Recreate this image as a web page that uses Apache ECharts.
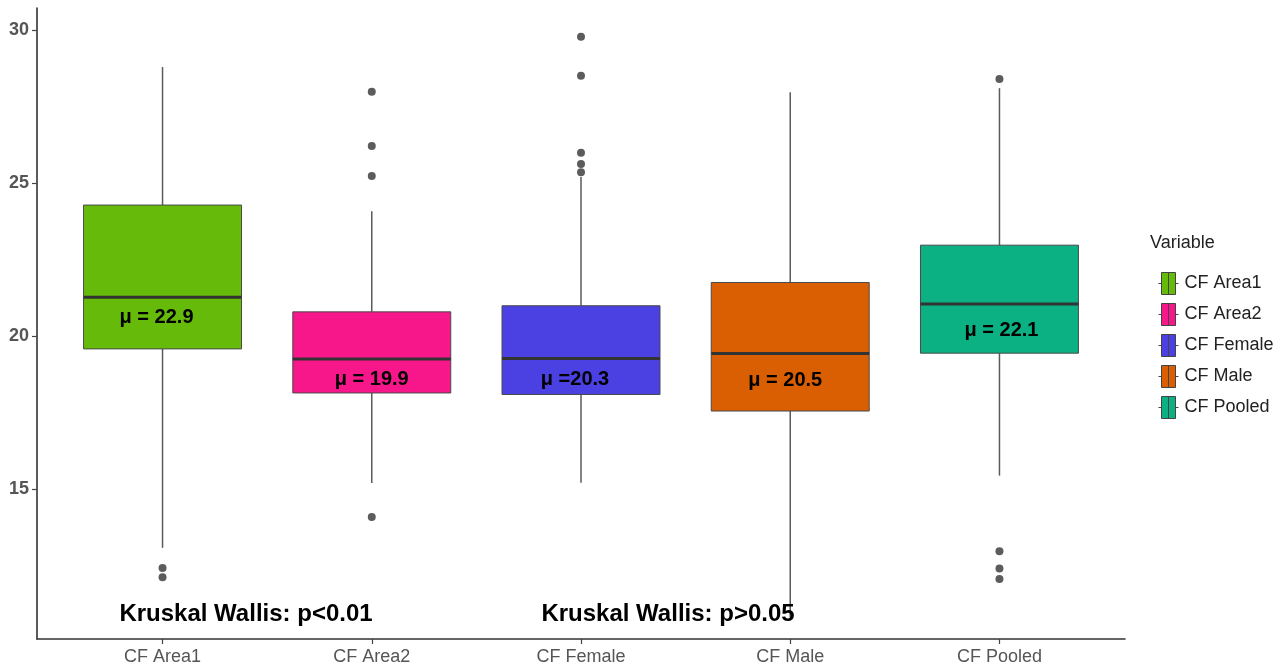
<!DOCTYPE html>
<html><head><meta charset="utf-8">
<script src="https://cdn.jsdelivr.net/npm/echarts@6/dist/echarts.min.js"></script>
<style>html,body{margin:0;padding:0;background:#fff}#c{width:1283px;height:670px}</style>
</head><body><div id="c"></div>
<script>
// ---- data ----
const categories = ['CF Area1', 'CF Area2', 'CF Female', 'CF Male', 'CF Pooled'];
const whiskerLow  = [13.08, 15.20, 15.21, 10.80, 15.44];
const q1          = [19.58, 18.14, 18.09, 17.55, 19.44];
const median      = [21.27, 19.25, 19.27, 19.43, 21.05];
const q3          = [24.28, 20.79, 20.99, 21.75, 22.97];
const whiskerHigh = [28.79, 24.08, 25.20, 27.97, 28.10];
const outliers = [
  [12.42, 12.12],
  [27.98, 26.21, 25.23, 14.09],
  [29.78, 28.51, 25.99, 25.62, 25.35],
  [],
  [28.40, 12.97, 12.40, 12.06]
];
const meanLabels = ['μ = 22.9', 'μ = 19.9', 'μ =20.3', 'μ = 20.5', 'μ = 22.1'];
const yTicks = [15, 20, 25, 30];
const xTicks = [0, 1, 2, 3, 4];
const legendTitle = 'Variable';
const testLabels = ['Kruskal Wallis: p<0.01', 'Kruskal Wallis: p>0.05'];

// ---- styles ----
const colors = ['#66BB0A', '#F8178A', '#4B40E2', '#D95F02', '#0BB183'];
const labelOffsets = [[-6, 20], [0, 20], [-6, 21], [-5, 27], [2, 27]];
const BOX_W = 0.755;

const chart = echarts.init(document.getElementById('c'));

function makeRender(i) {
  return function (params, api) {
    const x = api.value(0);
    const lo = api.coord([x, api.value(1)]);
    const b1 = api.coord([x, api.value(2)]);
    const md = api.coord([x, api.value(3)]);
    const b3 = api.coord([x, api.value(4)]);
    const hi = api.coord([x, api.value(5)]);
    const hw = api.size([BOX_W, 0])[0] / 2;
    const color = api.visual('color');
    const off = labelOffsets[i];
    return {
      type: 'group',
      children: [
        { type: 'line', shape: { x1: lo[0], y1: lo[1], x2: b1[0], y2: b1[1] }, style: { stroke: '#5a5a5a', lineWidth: 1.5 } },
        { type: 'line', shape: { x1: b3[0], y1: b3[1], x2: hi[0], y2: hi[1] }, style: { stroke: '#5a5a5a', lineWidth: 1.5 } },
        { type: 'rect', shape: { x: b3[0] - hw, y: b3[1], width: 2 * hw, height: b1[1] - b3[1] }, style: { fill: color, stroke: '#4a4a4a', lineWidth: 1 } },
        { type: 'line', shape: { x1: md[0] - hw, y1: md[1], x2: md[0] + hw, y2: md[1] }, style: { stroke: '#333', lineWidth: 3 } },
        { type: 'text', x: md[0] + off[0], y: md[1] + off[1], style: { text: meanLabels[i], fill: '#000', font: 'bold 20px "Liberation Sans", Arial, sans-serif', align: 'center', verticalAlign: 'middle' } }
      ]
    };
  };
}

const boxSeries = categories.map(function (name, i) {
  return {
    name: name,
    type: 'custom',
    renderItem: makeRender(i),
    itemStyle: { color: colors[i] },
    encode: { x: 0, y: [1, 2, 3, 4, 5] },
    data: [[i, whiskerLow[i], q1[i], median[i], q3[i], whiskerHigh[i]]],
    z: 2
  };
});

const outlierData = [];
outliers.forEach(function (arr, i) { arr.forEach(function (v) { outlierData.push([i, v]); }); });

const option = {
  animation: false,
  backgroundColor: '#fff',
  grid: { left: 37, right: 158, top: 8, bottom: 31, containLabel: false },
  xAxis: {
    type: 'value', min: -0.6, max: 4.6,
    axisLine: { show: true, onZero: false, lineStyle: { color: '#333', width: 1.6 } },
    axisTick: { show: true, length: 5, customValues: xTicks, lineStyle: { color: '#444', width: 1.2 } },
    axisLabel: { customValues: xTicks, formatter: function (v) { return categories[Math.round(v)]; }, color: '#555', fontSize: 18, fontFamily: '"Liberation Sans", Arial, sans-serif', margin: 9 },
    splitLine: { show: false }
  },
  yAxis: {
    type: 'value', min: 10.1, max: 30.72,
    axisLine: { show: true, onZero: false, lineStyle: { color: '#333', width: 1.6 } },
    axisTick: { show: true, length: 5, customValues: yTicks, lineStyle: { color: '#444', width: 1.2 } },
    axisLabel: { customValues: yTicks, color: '#555', fontSize: 18, fontWeight: 'bold', fontFamily: '"Liberation Sans", Arial, sans-serif', margin: 8 },
    splitLine: { show: false }
  },
  legend: {
    orient: 'vertical', left: 1153, top: 267,
    data: categories,
    itemWidth: 20, itemHeight: 22, itemGap: 8,
    icon: 'path://M0,11L3,11M3,0L17,0L17,22L3,22ZM10,0L10,22M17,11L20,11',
    itemStyle: { borderColor: '#444', borderWidth: 1 },
    textStyle: { color: '#222', fontSize: 18, fontFamily: '"Liberation Sans", Arial, sans-serif', padding: [0, 0, 0, 1] }
  },
  graphic: [
    { type: 'text', x: 1150, y: 243, style: { text: legendTitle, fill: '#222', font: '18px "Liberation Sans", Arial, sans-serif', verticalAlign: 'middle' } },
    { type: 'text', x: 246, y: 614, z: 10, style: { text: testLabels[0], fill: '#000', font: 'bold 24px "Liberation Sans", Arial, sans-serif', align: 'center', verticalAlign: 'middle' } },
    { type: 'text', x: 668, y: 614, z: 10, style: { text: testLabels[1], fill: '#000', font: 'bold 24px "Liberation Sans", Arial, sans-serif', align: 'center', verticalAlign: 'middle' } }
  ],
  series: boxSeries.concat([{
    name: 'outliers', type: 'scatter', data: outlierData,
    symbol: 'circle', symbolSize: 8, itemStyle: { color: '#333' }, z: 3
  }])
};
chart.setOption(option);
</script>
</body></html>
